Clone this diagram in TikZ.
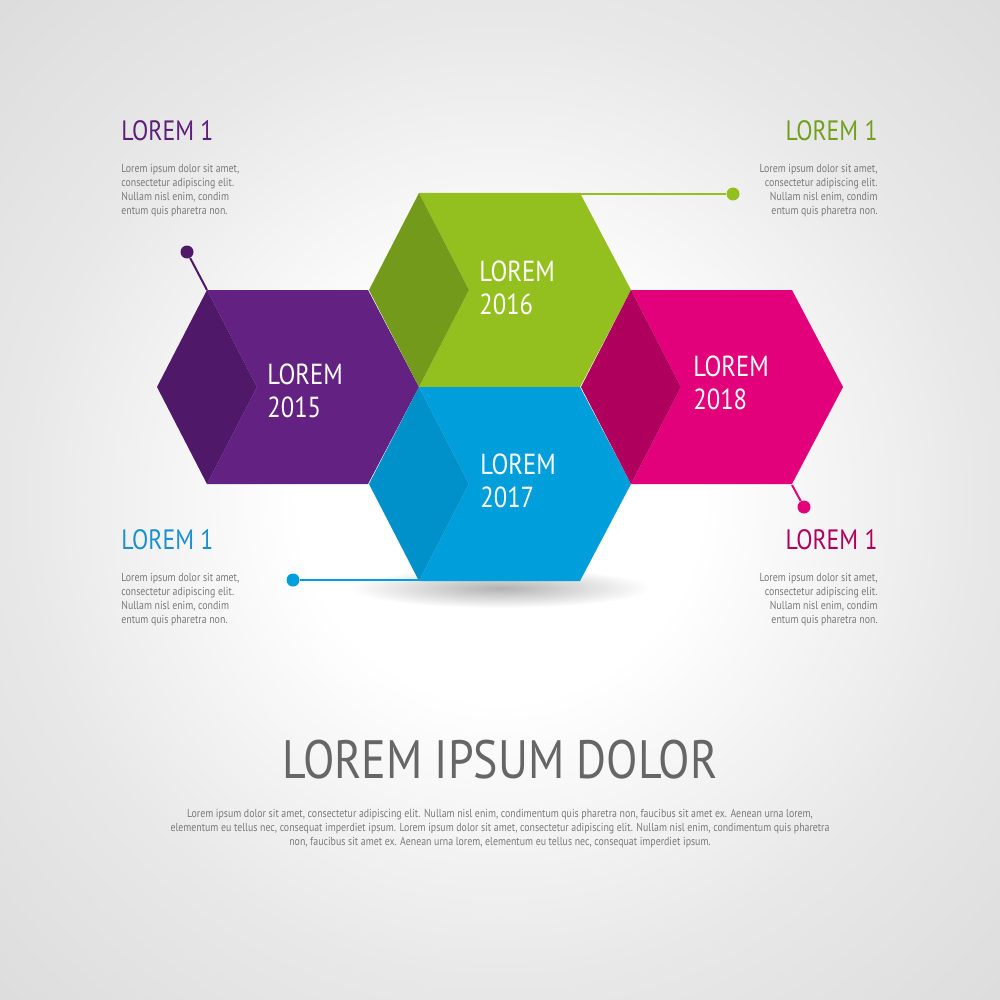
\documentclass[tikz,border=0pt]{standalone}
\usepackage{fontspec}
\setmainfont{PT Sans}[FakeStretch=0.85]
\usetikzlibrary{positioning,fadings}
\definecolor{purL}{HTML}{632282}
\definecolor{purD}{HTML}{4F1868}
\definecolor{grnL}{HTML}{93C01F}
\definecolor{grnD}{HTML}{739A1B}
\definecolor{bluL}{HTML}{009EDB}
\definecolor{bluD}{HTML}{0091CB}
\definecolor{pnkL}{HTML}{E2007B}
\definecolor{pnkD}{HTML}{AF005E}
\definecolor{hdpur}{HTML}{5E1F7A}
\definecolor{hdgrn}{HTML}{72A01C}
\definecolor{hdblu}{HTML}{1B8FCF}
\definecolor{hdpnk}{HTML}{B0005E}
\definecolor{txtgray}{HTML}{7A7A7A}
\definecolor{ttlgray}{HTML}{666666}
\definecolor{bgin}{HTML}{E8E8E8}
\definecolor{bgmid}{HTML}{D8D8D8}
\definecolor{bgedge}{HTML}{CACACA}
\pgfdeclareradialshading{bgglow}{\pgfpoint{0bp}{0bp}}{color(0bp)=(white); color(10bp)=(white); color(24bp)=(bgin); color(40bp)=(bgmid); color(71bp)=(bgedge)}
\tikzfading[name=softshadow, inner color=transparent!0, outer color=transparent!100]

\begin{document}
\begin{tikzpicture}[x=0.5pt, y=-0.5pt,
  head/.style={font=\fontsize{14}{16}\selectfont, text=#1, inner sep=0pt},
  blurb/.style={font=\fontsize{5.8}{7}\selectfont, text=txtgray, align=#1, inner sep=0pt},
  yr/.style={font=\fontsize{14.5}{16.5}\selectfont, text=white, align=left, inner sep=0pt, anchor=west},
  endpt/.style={circle, fill=#1, inner sep=0pt, minimum size=6.5pt},
  link/.style={draw=#1, line width=1pt}]
\useasboundingbox (0,0) rectangle (1000,1000);
\shade[shading=bgglow] (0,0) rectangle (1000,1000);
% shadow under the lower hexagon
\fill[black, opacity=0.3, path fading=softshadow, fit fading] (500,588) ellipse [x radius=150, y radius=20];
% hexagons: light body first, dark left face on top
\fill[purL] (288,387) ++(-81,-97) -- ++(161,0) -- ++(51,97) -- ++(-51,97) -- ++(-161,0) -- ++(50,-97) -- cycle;
\fill[purD] (288,387) ++(-131,0) -- ++(50,-97) -- ++(50,97) -- ++(-50,97) -- cycle;
\fill[grnL] (500,290) ++(-81,-97) -- ++(161,0) -- ++(51,97) -- ++(-51,97) -- ++(-161,0) -- ++(50,-97) -- cycle;
\fill[grnD] (500,290) ++(-131,0) -- ++(50,-97) -- ++(50,97) -- ++(-50,97) -- cycle;
\fill[bluL] (500,484) ++(-81,-97) -- ++(161,0) -- ++(51,97) -- ++(-51,97) -- ++(-161,0) -- ++(50,-97) -- cycle;
\fill[bluD] (500,484) ++(-131,0) -- ++(50,-97) -- ++(50,97) -- ++(-50,97) -- cycle;
\fill[pnkL] (712,387) ++(-81,-97) -- ++(161,0) -- ++(51,97) -- ++(-51,97) -- ++(-161,0) -- ++(50,-97) -- cycle;
\fill[pnkD] (712,387) ++(-131,0) -- ++(50,-97) -- ++(50,97) -- ++(-50,97) -- cycle;
\node[yr] (y15) at (267,391) {LOREM\\2015};
\node[yr] (y16) at (479,288) {LOREM\\2016};
\node[yr] (y17) at (480,481) {LOREM\\2017};
\node[yr] (y18) at (693,383) {LOREM\\2018};
% corners the links start from
\coordinate (purC) at (207,290);
\coordinate (grnC) at (580,194);
\coordinate (bluC) at (419,580);
\coordinate (pnkC) at (792,485);
\node[endpt=purD] (purP) at (187,252) {};
\node[endpt=grnL] (grnP) at (733,194) {};
\node[endpt=bluL] (bluP) at (293,580) {};
\node[endpt=pnkL] (pnkP) at (804,507) {};
\draw[link=purD] (purP) -- (purC);
\draw[link=grnL] (grnC) -- (grnP);
\draw[link=bluL] (bluP) -- (bluC);
\draw[link=pnkL] (pnkC) -- (pnkP);
% side notes
\node[head=hdpur, anchor=west] (h1) at (121,131) {LOREM 1};
\node[blurb=left, below right=11pt and 0pt of h1.south west] (b1)
  {Lorem ipsum dolor sit amet,\\consectetur adipiscing elit.\\Nullam nisl enim, condim\\entum quis pharetra non.};
\node[head=hdgrn, anchor=east] (h2) at (878,131) {LOREM 1};
\node[blurb=right, below left=11pt and 0pt of h2.south east] (b2)
  {Lorem ipsum dolor sit amet,\\consectetur adipiscing elit.\\Nullam nisl enim, condim\\entum quis pharetra non.};
\node[head=hdblu, anchor=west] (h3) at (121,540) {LOREM 1};
\node[blurb=left, below right=11pt and 0pt of h3.south west] (b3)
  {Lorem ipsum dolor sit amet,\\consectetur adipiscing elit.\\Nullam nisl enim, condim\\entum quis pharetra non.};
\node[head=hdpnk, anchor=east] (h4) at (878,540) {LOREM 1};
\node[blurb=right, below left=11pt and 0pt of h4.south east] (b4)
  {Lorem ipsum dolor sit amet,\\consectetur adipiscing elit.\\Nullam nisl enim, condim\\entum quis pharetra non.};
% title block
\node[font=\fontsize{27}{30}\selectfont, text=ttlgray, inner sep=0pt] (ttl) at (500,760) {LOREM IPSUM DOLOR};
\node[font=\fontsize{5.8}{7}\selectfont, text=txtgray, align=center, inner sep=0pt, below=14.5pt of ttl] (para)
  {Lorem ipsum dolor sit amet, consectetur adipiscing elit. Nullam nisl enim, condimentum quis pharetra non, faucibus sit amet ex. Aenean urna lorem,\\
   elementum eu tellus nec, consequat imperdiet ipsum. Lorem ipsum dolor sit amet, consectetur adipiscing elit. Nullam nisl enim, condimentum quis pharetra\\
   non, faucibus sit amet ex. Aenean urna lorem, elementum eu tellus nec, consequat imperdiet ipsum.};
\end{tikzpicture}
\end{document}
